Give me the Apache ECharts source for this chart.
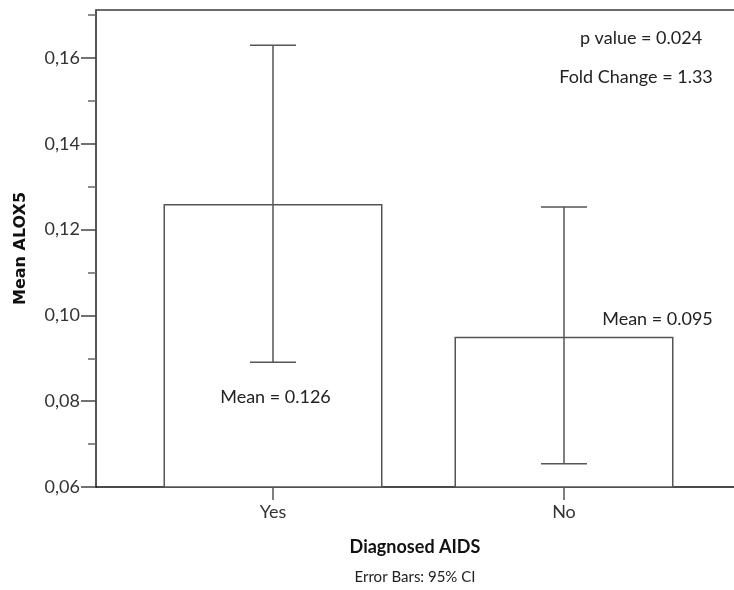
<!DOCTYPE html>
<html>
<head>
<meta charset="utf-8">
<script src="https://cdn.jsdelivr.net/npm/echarts@6/dist/echarts.min.js"></script>
<style>
  html, body { margin: 0; padding: 0; background: #fff; }
  #chart { width: 734px; height: 590px; }
</style>
</head>
<body>
<div id="chart"></div>
<script>
// Group means of ALOX5 with 95% confidence intervals
const categories = ['Yes', 'No'];
const means = [0.126, 0.095];
const ciLow = [0.0891, 0.0654];
const ciHigh = [0.1630, 0.1253];
const yTicks = [0.06, 0.08, 0.10, 0.12, 0.14, 0.16];
const statText = ['p value = 0.024', 'Fold Change = 1.33'];

const FONT = 'Lato';
const chart = echarts.init(document.getElementById('chart'), null, { renderer: 'canvas' });

const barData = means.map((v, i) => {
  const item = { value: [i, v] };
  // label placement relative to each bar's top-left corner
  item.label = i === 0
    ? { position: [112, 193] }
    : { position: [203, -18] };
  return item;
});

const errData = categories.map((c, i) => [i, ciLow[i], ciHigh[i]]);

chart.setOption({
  animation: false,
  backgroundColor: '#ffffff',
  grid: {
    left: 96, top: 10, right: 0, height: 477,
    show: false
  },
  xAxis: {
    type: 'value',
    min: -0.6082, max: 1.5842,
    name: 'Diagnosed AIDS',
    nameLocation: 'middle',
    nameGap: 51,
    nameTextStyle: { fontFamily: FONT, fontWeight: 'bold', fontSize: 18, color: '#111', padding: [0, 0, 0, 0] },
    axisLine: { show: true, onZero: false, lineStyle: { color: '#111', width: 1.5 } },
    axisTick: { show: true, customValues: [0, 1], length: 13, lineStyle: { color: '#555', width: 1.5 } },
    axisLabel: {
      customValues: [0, 1],
      formatter: v => categories[Math.round(v)],
      fontFamily: FONT, fontSize: 18, color: '#333', margin: 16
    },
    splitLine: { show: false }
  },
  yAxis: {
    type: 'value',
    min: 0.06, max: 0.1712, interval: 0.02,
    name: 'Mean ALOX5',
    nameLocation: 'middle',
    nameGap: 67,
    nameTextStyle: { fontFamily: 'DejaVu Sans', fontWeight: 'bold', fontSize: 16, color: '#111' },
    axisLine: { show: true, onZero: false, lineStyle: { color: '#555', width: 2 } },
    axisTick: { show: true, customValues: yTicks, length: 15, lineStyle: { color: '#444', width: 1.5 } },
    minorTick: { show: true, splitNumber: 2, length: 8, lineStyle: { color: '#666', width: 1.5 } },
    axisLabel: {
      customValues: yTicks,
      formatter: v => v.toFixed(2).replace('.', ','),
      fontFamily: FONT, fontSize: 18, color: '#333', margin: 16
    },
    splitLine: { show: false }
  },
  graphic: [
    {
      // top frame edge of the plot area
      type: 'line',
      shape: { x1: 96, y1: 10, x2: 734, y2: 10 },
      style: { stroke: '#6b6b6b', lineWidth: 2 }
    },
    {
      type: 'text',
      x: 641, y: 38,
      style: { text: statText[0], align: 'center', verticalAlign: 'middle',
               font: '18px ' + FONT, fill: '#222' }
    },
    {
      type: 'text',
      x: 636, y: 77,
      style: { text: statText[1], align: 'center', verticalAlign: 'middle',
               font: '18px ' + FONT, fill: '#222' }
    },
    {
      type: 'text',
      x: 415, y: 577,
      style: { text: 'Error Bars: 95% CI', align: 'center', verticalAlign: 'middle',
               font: '15px ' + FONT, fill: '#222' }
    }
  ],
  series: [
    {
      type: 'bar',
      barWidth: 219,
      data: barData,
      itemStyle: { color: '#ffffff', borderColor: '#555', borderWidth: 1.5 },
      label: {
        show: true,
        formatter: p => 'Mean = ' + p.value[1].toFixed(3),
        fontFamily: FONT, fontSize: 18, color: '#222',
        align: 'center', verticalAlign: 'middle'
      },
      z: 2
    },
    {
      type: 'custom',
      data: errData,
      z: 3,
      renderItem: (params, api) => {
        const x = api.value(0);
        const lo = api.coord([x, api.value(1)]);
        const hi = api.coord([x, api.value(2)]);
        const half = 23;
        const style = { stroke: '#555', lineWidth: 1.5 };
        return {
          type: 'group',
          children: [
            { type: 'line', shape: { x1: hi[0], y1: hi[1], x2: lo[0], y2: lo[1] }, style },
            { type: 'line', shape: { x1: hi[0] - half, y1: hi[1], x2: hi[0] + half, y2: hi[1] }, style },
            { type: 'line', shape: { x1: lo[0] - half, y1: lo[1], x2: lo[0] + half, y2: lo[1] }, style }
          ]
        };
      }
    }
  ]
});
</script>
</body>
</html>
